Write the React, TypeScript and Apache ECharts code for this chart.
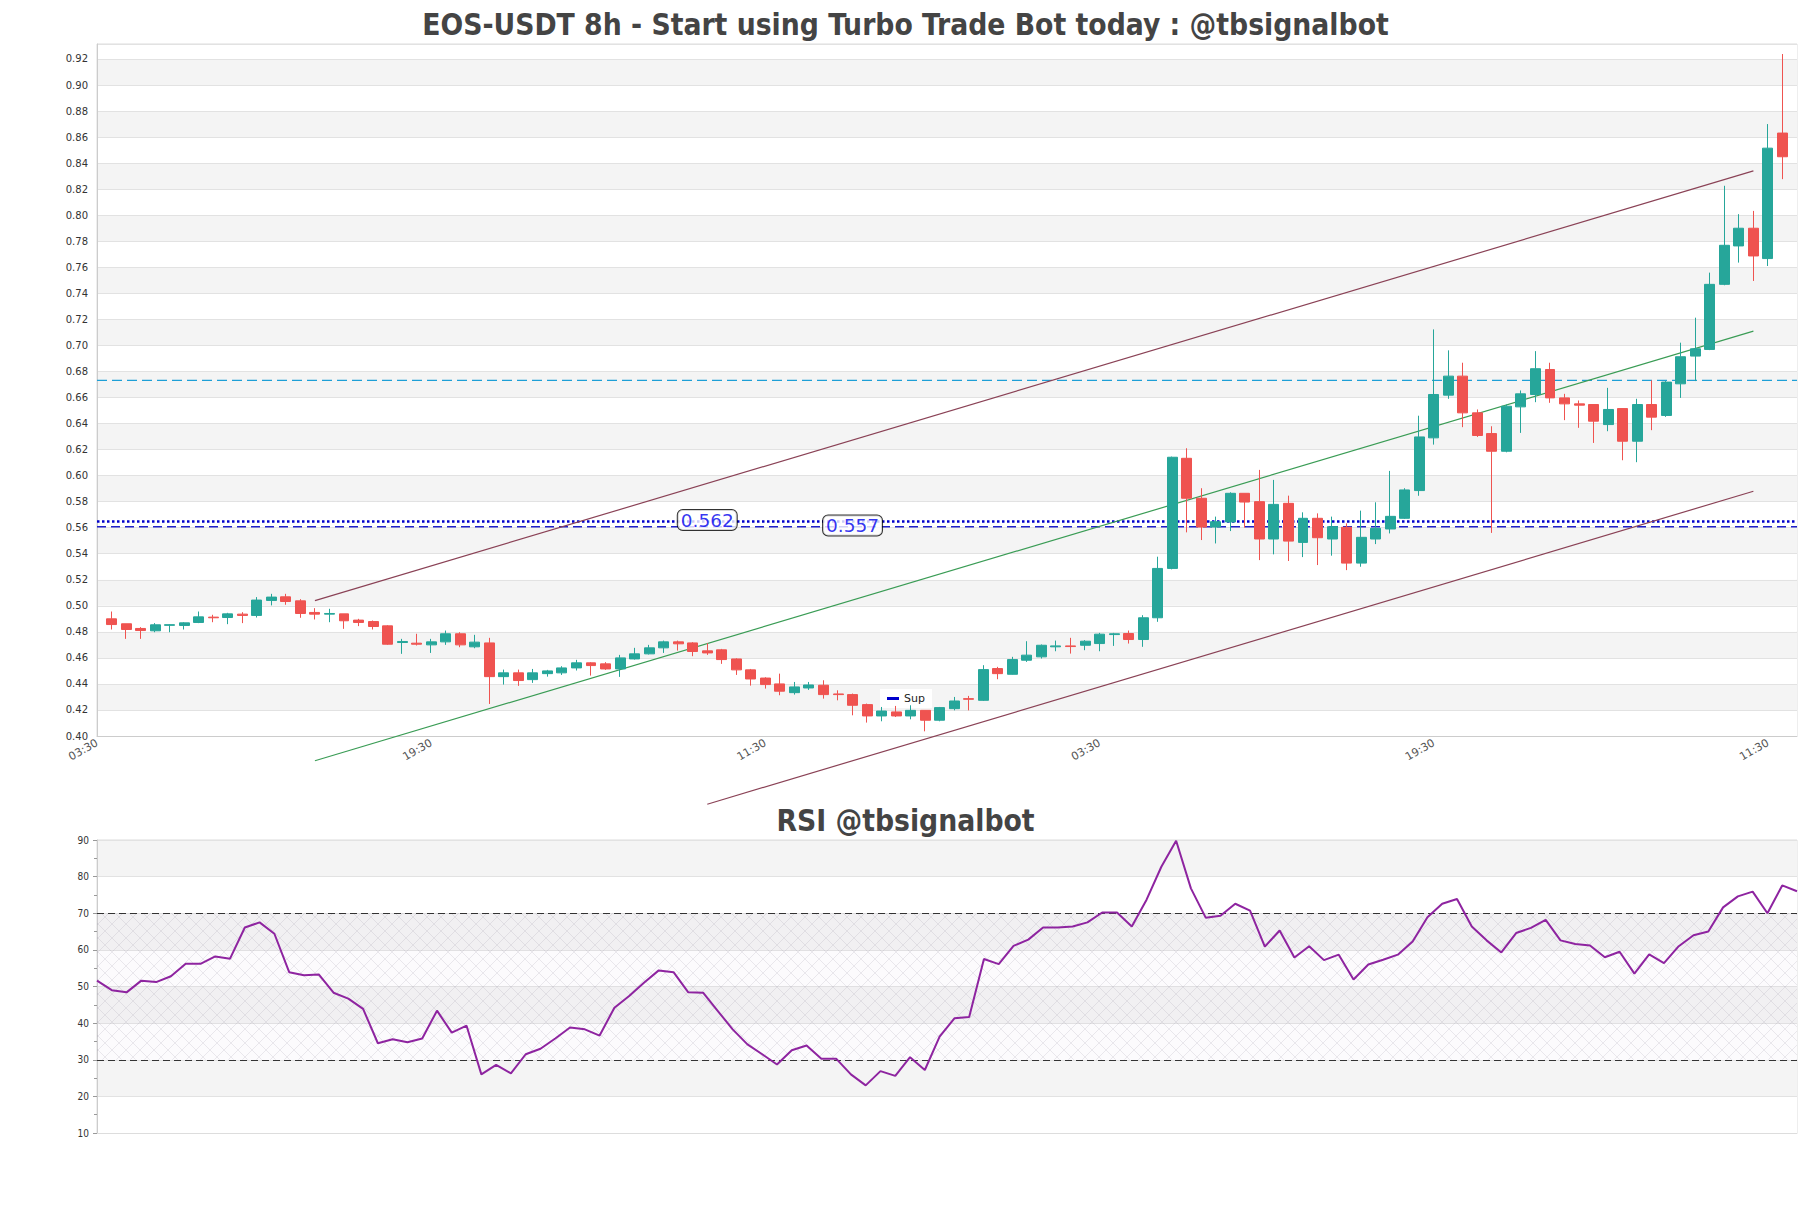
import React, { useEffect, useRef } from 'react';
import * as echarts from 'echarts';

const TITLE = 'EOS-USDT 8h - Start using Turbo Trade Bot today : @tbsignalbot';
const RSI_TITLE = 'RSI @tbsignalbot';

// x-axis time labels (8h candles)
const TIME_CYCLE = ['03:30', '11:30', '19:30'];
const CATEGORY_COUNT = 118;
const categories = Array.from({ length: CATEGORY_COUNT }, (_, i) => TIME_CYCLE[i % 3]);

// candles, index 1..116
const opens = [
  0.4900, 0.4862, 0.4826, 0.4808, 0.4850, 0.4849, 0.4872, 0.4913, 0.4910, 0.4936,
  0.4926, 0.5041, 0.5069, 0.5038, 0.4949, 0.4936, 0.4938, 0.4890, 0.4879, 0.4846,
  0.4718, 0.4713, 0.4700, 0.4723, 0.4785, 0.4685, 0.4715, 0.4456, 0.4485, 0.4433,
  0.4479, 0.4485, 0.4523, 0.4562, 0.4554, 0.4515, 0.4592, 0.4631, 0.4677, 0.4723,
  0.4715, 0.4654, 0.4662, 0.4592, 0.4508, 0.4445, 0.4400, 0.4333, 0.4369, 0.4390,
  0.4323, 0.4318, 0.4241, 0.4154, 0.4185, 0.4154, 0.4197, 0.4121, 0.4210, 0.4287,
  0.4274, 0.4518, 0.4474, 0.4582, 0.4608, 0.4685, 0.4692, 0.4697, 0.4710, 0.4779,
  0.4787, 0.4741, 0.4908, 0.5287, 0.6133, 0.5826, 0.5605, 0.5644, 0.5864, 0.5800,
  0.5513, 0.5787, 0.5487, 0.5672, 0.5513, 0.5603, 0.5328, 0.5513, 0.5590, 0.5672,
  0.5885, 0.6290, 0.6618, 0.6764, 0.6482, 0.6323, 0.6187, 0.6528, 0.6623, 0.6815,
  0.6597, 0.6551, 0.6546, 0.6392, 0.6515, 0.6264, 0.6546, 0.6462, 0.6705, 0.6918,
  0.6969, 0.7469, 0.7764, 0.7900, 0.7667, 0.8631
];
const closes = [
  0.4856, 0.4818, 0.4810, 0.4854, 0.4855, 0.4869, 0.4915, 0.4908, 0.4938, 0.4926,
  0.5044, 0.5067, 0.5033, 0.4941, 0.4936, 0.4941, 0.4885, 0.4872, 0.4841, 0.4705,
  0.4726, 0.4705, 0.4723, 0.4785, 0.4700, 0.4721, 0.4456, 0.4485, 0.4426, 0.4485,
  0.4500, 0.4523, 0.4562, 0.4541, 0.4515, 0.4600, 0.4631, 0.4677, 0.4723, 0.4708,
  0.4649, 0.4638, 0.4587, 0.4508, 0.4438, 0.4395, 0.4344, 0.4377, 0.4392, 0.4318,
  0.4318, 0.4236, 0.4154, 0.4192, 0.4154, 0.4197, 0.4121, 0.4218, 0.4269, 0.4282,
  0.4510, 0.4479, 0.4587, 0.4621, 0.4697, 0.4692, 0.4687, 0.4728, 0.4782, 0.4785,
  0.4741, 0.4908, 0.5287, 0.6141, 0.5826, 0.5605, 0.5646, 0.5864, 0.5797, 0.5513,
  0.5779, 0.5497, 0.5672, 0.5523, 0.5608, 0.5328, 0.5526, 0.5595, 0.5687, 0.5890,
  0.6297, 0.6623, 0.6764, 0.6482, 0.6308, 0.6187, 0.6533, 0.6628, 0.6821, 0.6597,
  0.6551, 0.6541, 0.6418, 0.6508, 0.6264, 0.6546, 0.6449, 0.6718, 0.6913, 0.6974,
  0.7469, 0.7769, 0.7900, 0.7687, 0.8515, 0.8449
];
const lows = [
  0.4818, 0.4746, 0.4746, 0.4797, 0.4797, 0.4818, 0.4867, 0.4874, 0.4859, 0.4867,
  0.4910, 0.5003, 0.5008, 0.4908, 0.4895, 0.4874, 0.4823, 0.4844, 0.4818, 0.4700,
  0.4631, 0.4695, 0.4638, 0.4700, 0.4682, 0.4674, 0.4246, 0.4395, 0.4385, 0.4408,
  0.4456, 0.4469, 0.4503, 0.4464, 0.4508, 0.4454, 0.4587, 0.4626, 0.4638, 0.4656,
  0.4613, 0.4623, 0.4554, 0.4469, 0.4387, 0.4364, 0.4313, 0.4318, 0.4354, 0.4287,
  0.4274, 0.4159, 0.4103, 0.4113, 0.4146, 0.4128, 0.4036, 0.4113, 0.4197, 0.4197,
  0.4269, 0.4436, 0.4472, 0.4569, 0.4595, 0.4651, 0.4633, 0.4659, 0.4651, 0.4692,
  0.4710, 0.4685, 0.4877, 0.5280, 0.5564, 0.5505, 0.5479, 0.5574, 0.5600, 0.5351,
  0.5395, 0.5344, 0.5374, 0.5313, 0.5385, 0.5274, 0.5300, 0.5474, 0.5556, 0.5667,
  0.5845, 0.6238, 0.6590, 0.6372, 0.6297, 0.5560, 0.6179, 0.6328, 0.6564, 0.6559,
  0.6426, 0.6367, 0.6251, 0.6341, 0.6118, 0.6103, 0.6349, 0.6451, 0.6597, 0.6726,
  0.6964, 0.7462, 0.7636, 0.7495, 0.7610, 0.8277
];
const highs = [
  0.4956, 0.4862, 0.4836, 0.4867, 0.4858, 0.4874, 0.4956, 0.4931, 0.4946, 0.4951,
  0.5067, 0.5092, 0.5092, 0.5051, 0.4982, 0.4977, 0.4938, 0.4900, 0.4887, 0.4851,
  0.4746, 0.4785, 0.4746, 0.4810, 0.4797, 0.4777, 0.4754, 0.4510, 0.4510, 0.4515,
  0.4508, 0.4536, 0.4585, 0.4567, 0.4567, 0.4623, 0.4677, 0.4700, 0.4733, 0.4733,
  0.4721, 0.4713, 0.4669, 0.4597, 0.4515, 0.4451, 0.4479, 0.4415, 0.4415, 0.4428,
  0.4351, 0.4326, 0.4249, 0.4223, 0.4231, 0.4236, 0.4197, 0.4223, 0.4300, 0.4308,
  0.4544, 0.4531, 0.4608, 0.4728, 0.4703, 0.4733, 0.4754, 0.4736, 0.4792, 0.4792,
  0.4810, 0.4928, 0.5377, 0.6146, 0.6210, 0.5903, 0.5685, 0.5872, 0.5864, 0.6044,
  0.5967, 0.5846, 0.5718, 0.5710, 0.5685, 0.5633, 0.5731, 0.5795, 0.6036, 0.5903,
  0.6460, 0.7123, 0.6962, 0.6867, 0.6508, 0.6379, 0.6546, 0.6654, 0.6956, 0.6867,
  0.6628, 0.6577, 0.6546, 0.6674, 0.6515, 0.6590, 0.6731, 0.6726, 0.7021, 0.7213,
  0.7559, 0.8226, 0.8008, 0.8033, 0.8700, 0.9238
];

// channel lines [index, price]
const upperChannel = [[15, 0.504], [114, 0.834]];
const midChannel = [[15, 0.381], [114, 0.711]];
const lowerChannel = [[42, 0.3476], [114, 0.588]];

// horizontal levels
const SUP_DOTTED = 0.5647;
const SUP_DASHED = 0.5607;
const RES_LEVEL = 0.6731;

// price tags [index, price, text]
const priceTags = [
  [42, 0.5659, '0.562'],
  [52, 0.5617, '0.557'],
];

// RSI values (116 points)
const rsiValues = [
  51.6, 49.0, 48.4, 51.6, 51.2, 52.8, 56.2, 56.2, 58.2, 57.6,
  66.1, 67.5, 64.4, 53.9, 53.1, 53.3, 48.3, 46.7, 43.9, 34.5,
  35.6, 34.8, 35.8, 43.4, 37.4, 39.3, 26.0, 28.6, 26.3, 31.5,
  33.0, 35.8, 38.8, 38.3, 36.6, 44.2, 47.4, 51.0, 54.4, 53.9,
  48.4, 48.3, 43.3, 38.3, 34.2, 31.5, 28.7, 32.6, 33.9, 30.3,
  30.3, 26.0, 23.0, 26.9, 25.6, 30.7, 27.2, 36.3, 41.3, 41.7,
  57.5, 56.1, 61.1, 62.8, 66.1, 66.1, 66.4, 67.5, 70.2, 70.2,
  66.4, 73.7, 82.7, 89.8, 76.8, 68.8, 69.3, 72.6, 70.7, 60.9,
  65.3, 57.9, 61.0, 57.2, 58.7, 51.9, 56.0, 57.3, 58.7, 62.3,
  68.9, 72.6, 73.9, 66.4, 62.6, 59.3, 64.6, 66.0, 68.2, 62.6,
  61.6, 61.2, 58.0, 59.5, 53.5, 58.8, 56.4, 61.0, 64.0, 65.0,
  71.6, 74.6, 75.9, 70.0, 77.6, 76.0
];
const rsiCategories = rsiValues.map((_, i) => String(i));

const UP = '#26a69a';
const DOWN = '#ef5350';
const TITLE_FONT = '"DejaVu Sans Condensed", "DejaVu Sans", sans-serif';

export default function App() {
  const ref = useRef<HTMLDivElement>(null);

  useEffect(() => {
    if (!ref.current) return;
    const chart = echarts.init(ref.current, null, { renderer: 'svg' });

    const candleData = opens.map((o, i) => [i + 1, o, closes[i], lows[i], highs[i]]);

    const S = 14;
    const c = document.createElement('canvas');
    c.width = S;
    c.height = S;
    const ctx = c.getContext('2d');
    if (ctx) {
      ctx.strokeStyle = 'rgba(150,145,165,0.32)';
      ctx.lineWidth = 0.6;
      ctx.beginPath();
      ctx.moveTo(0, 0);
      ctx.lineTo(S, S);
      ctx.moveTo(S, 0);
      ctx.lineTo(0, S);
      ctx.stroke();
    }
    const hatch: any = { image: c, repeat: 'repeat', imageWidth: S, imageHeight: S };

    const hLine = (name: string, y: number, style: any) => ({
      name,
      type: 'line',
      xAxisIndex: 0,
      yAxisIndex: 0,
      data: [[0, y], [CATEGORY_COUNT - 1, y]],
      symbol: 'none',
      silent: true,
      lineStyle: style,
      itemStyle: { color: style.color },
      z: 3,
    });

    const trend = (data: number[][], color: string) => ({
      type: 'line',
      xAxisIndex: 0,
      yAxisIndex: 0,
      data,
      symbol: 'none',
      silent: true,
      clip: false,
      lineStyle: { color, width: 1.2 },
      z: 4,
    });

    const option: any = {
      animation: false,
      backgroundColor: '#ffffff',
      title: [
        {
          text: TITLE,
          left: 'center',
          top: 4,
          textStyle: { fontFamily: TITLE_FONT, fontWeight: 'bold', fontSize: 29.7, color: '#444444' },
        },
        {
          text: RSI_TITLE,
          left: 'center',
          top: 800,
          textStyle: { fontFamily: TITLE_FONT, fontWeight: 'bold', fontSize: 29.7, color: '#444444' },
        },
      ],
      legend: {
        data: ['Sup'],
        left: 880,
        top: 689,
        icon: 'rect',
        itemWidth: 12,
        itemHeight: 3,
        itemGap: 5,
        padding: [4, 7],
        backgroundColor: '#ffffff',
        textStyle: { fontSize: 11, color: '#222', fontFamily: 'DejaVu Sans' },
      },
      grid: [
        { left: 97, top: 44, width: 1700, height: 692, show: true, borderColor: '#dddddd', borderWidth: 1 },
        { left: 97, top: 840, width: 1700, height: 293, show: true, borderColor: '#dddddd', borderWidth: 1 },
      ],
      xAxis: [
        {
          type: 'category',
          gridIndex: 0,
          data: categories,
          boundaryGap: false,
          axisLine: { lineStyle: { color: '#cccccc' } },
          axisTick: { show: false },
          splitLine: { show: false },
          axisLabel: {
            interval: 22,
            rotate: 30,
            fontSize: 11,
            color: '#555555',
            margin: 6,
            fontFamily: 'DejaVu Sans',
          },
        },
        {
          type: 'category',
          gridIndex: 1,
          data: rsiCategories,
          boundaryGap: false,
          axisLine: { lineStyle: { color: '#dddddd' } },
          axisTick: { show: false },
          axisLabel: { show: false },
          splitLine: { show: false },
        },
      ],
      yAxis: [
        {
          type: 'value',
          gridIndex: 0,
          min: 0.4,
          max: 0.9315,
          interval: 0.02,
          axisLine: { show: true, lineStyle: { color: '#cccccc' } },
          axisTick: { show: false },
          axisLabel: {
            fontSize: 10,
            color: '#333333',
            margin: 9,
            fontFamily: 'DejaVu Sans',
            formatter: (v: number) =>
              Math.abs(v * 50 - Math.round(v * 50)) > 1e-6 ? '' : v.toFixed(2),
          },
          splitLine: { lineStyle: { color: '#e2e2e2' } },
          splitArea: { show: true, areaStyle: { color: ['#ffffff', '#f4f4f4'] } },
        },
        {
          type: 'value',
          gridIndex: 1,
          min: 10,
          max: 90,
          interval: 10,
          axisLine: { show: true, lineStyle: { color: '#cccccc' } },
          axisTick: { show: true, length: 4, lineStyle: { color: '#999999' } },
          minorTick: { show: true, splitNumber: 2, length: 3, lineStyle: { color: '#999999' } },
          axisLabel: { fontSize: 10, color: '#333333', margin: 8, fontFamily: TITLE_FONT },
          splitLine: { lineStyle: { color: '#e2e2e2' } },
          splitArea: { show: true, areaStyle: { color: ['#ffffff', '#f4f4f4'] } },
        },
      ],
      series: [
        {
          name: 'candles',
          type: 'candlestick',
          xAxisIndex: 0,
          yAxisIndex: 0,
          data: candleData,
          encode: { x: 0, y: [1, 2, 3, 4] },
          barWidth: '72%',
          itemStyle: {
            color: UP,
            color0: DOWN,
            borderColor: UP,
            borderColor0: DOWN,
            borderWidth: 1,
          },
          z: 5,
        },
        hLine('Sup', SUP_DOTTED, { color: '#0000cc', width: 2.5, type: 'dotted' }),
        hLine('supDash', SUP_DASHED, { color: '#1f1fc8', width: 1.4, type: [9, 5] }),
        hLine('res', RES_LEVEL, { color: '#1e9fd6', width: 1.2, type: [10, 5] }),
        trend(upperChannel, '#8a4256'),
        trend(midChannel, '#3a9c55'),
        trend(lowerChannel, '#8a4256'),
        {
          name: 'tags',
          type: 'scatter',
          xAxisIndex: 0,
          yAxisIndex: 0,
          data: priceTags,
          symbolSize: 1,
          silent: true,
          itemStyle: { color: 'rgba(0,0,0,0)' },
          label: {
            show: true,
            position: 'inside',
            formatter: (p: any) => p.data[2],
            fontSize: 18.5,
            fontFamily: 'DejaVu Sans',
            color: '#0000ee',
            backgroundColor: '#ffffff',
            borderColor: '#000000',
            borderWidth: 1,
            borderRadius: 5,
            padding: [1, 3, 0, 3],
          },
          z: 8,
        },
        {
          name: 'RSI',
          type: 'line',
          xAxisIndex: 1,
          yAxisIndex: 1,
          data: rsiValues,
          symbol: 'none',
          silent: true,
          lineStyle: { color: '#8e24a0', width: 2 },
          markLine: {
            silent: true,
            symbol: 'none',
            label: { show: false },
            lineStyle: { color: '#333333', type: [7, 4], width: 1.2 },
            data: [{ yAxis: 70 }, { yAxis: 30 }],
          },
          markArea: {
            silent: true,
            data: [
              [{ yAxis: 30, itemStyle: { color: 'rgba(215,200,230,0.07)' } }, { yAxis: 70 }],
              [{ yAxis: 30, itemStyle: { color: hatch } }, { yAxis: 70 }],
            ],
          },
          z: 5,
        },
      ],
    };

    chart.setOption(option);
    return () => chart.dispose();
  }, []);

  return (
    <div
      ref={ref}
      style={{ position: 'absolute', left: 0, top: 0, width: 1811, height: 1208, background: '#fff' }}
    />
  );
}
